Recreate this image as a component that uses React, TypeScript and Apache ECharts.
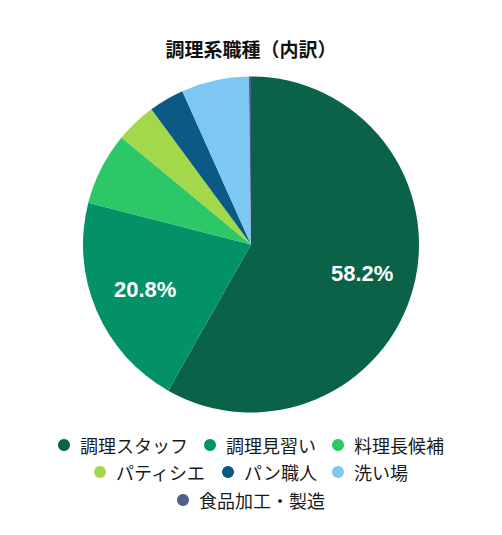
import React, { useEffect, useRef } from 'react';
import * as echarts from 'echarts';

const titleText = '調理系職種（内訳）';
const categories = ['調理スタッフ', '調理見習い', '料理長候補', 'パティシエ', 'パン職人', '洗い場', '食品加工・製造'];
const shares = [58.2, 20.8, 7.0, 3.9, 3.4, 6.5, 0.2];
const colors = ['#0A6348', '#039267', '#2CC766', '#A3D84B', '#0B5A86', '#7DC8F2', '#525E8E'];
const legendRows = [
  ['調理スタッフ', '調理見習い', '料理長候補'],
  ['パティシエ', 'パン職人', '洗い場'],
  ['食品加工・製造'],
];
const legendTops = [430, 457, 485];

const App: React.FC = () => {
  const chartRef = useRef<HTMLDivElement>(null);

  useEffect(() => {
    if (!chartRef.current) return;
    const chart = echarts.init(chartRef.current, undefined, { renderer: 'svg' });

    const data = categories.map((name, i) => ({
      name,
      value: shares[i],
      itemStyle: { color: colors[i] },
    }));

    const option: echarts.EChartsOption = {
      animation: false,
      title: {
        text: titleText,
        left: 'center',
        top: 34,
        textStyle: {
          fontFamily: 'Noto Sans CJK JP',
          fontSize: 19,
          fontWeight: 'bold',
          color: '#111',
        },
      },
      legend: legendRows.map((row, i) => ({
        data: row,
        left: 'center',
        top: legendTops[i],
        icon: 'circle',
        itemWidth: 12,
        itemHeight: 12,
        itemGap: 16,
        selectedMode: false,
        textStyle: {
          fontFamily: 'Noto Sans CJK JP',
          fontSize: 18,
          lineHeight: 20,
          color: '#1a1a1a',
          padding: [0, 0, 0, 5],
        },
      })),
      series: [
        {
          type: 'pie',
          center: [251, 244.5],
          radius: [0, 168],
          startAngle: 90,
          clockwise: true,
          data,
          label: { show: false },
          labelLine: { show: false },
          emphasis: { disabled: true },
        },
        {
          // transparent ring used only to put the labels at 2/3 of the radius
          type: 'pie',
          center: [251, 244.5],
          radius: [56, 168],
          startAngle: 90,
          clockwise: true,
          silent: true,
          data: categories.map((name, i) => ({ name, value: shares[i] })),
          itemStyle: { color: 'rgba(0,0,0,0)' },
          label: {
            show: true,
            position: 'inside',
            formatter: (p: any) => (p.percent > 10 ? `${p.percent.toFixed(1)}%` : ''),
            color: '#fff',
            fontFamily: 'Liberation Sans',
            fontWeight: 'bold',
            fontSize: 22,
          },
          labelLine: { show: false },
          emphasis: { disabled: true },
        },
      ],
    };

    chart.setOption(option);

    const handleResize = () => chart.resize();
    window.addEventListener('resize', handleResize);

    return () => {
      window.removeEventListener('resize', handleResize);
      chart.dispose();
    };
  }, []);

  return (
    <div
      ref={chartRef}
      style={{ position: 'fixed', left: 0, top: 0, width: 502, height: 535, background: '#fff' }}
    />
  );
};

export default App;
